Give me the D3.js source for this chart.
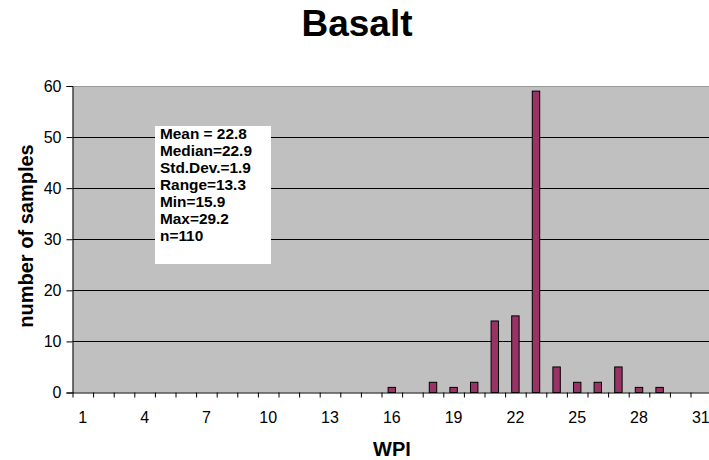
<!DOCTYPE html>
<html>
<head>
<meta charset="utf-8">
<script src="https://cdn.jsdelivr.net/npm/d3@7"></script>
<style>
  html, body { margin: 0; padding: 0; background: #fff; }
  svg { display: block; font-family: Arial, "Liberation Sans", sans-serif; }
</style>
</head>
<body>
<svg id="chart" width="709" height="460"></svg>
<script>
// WPI histogram bins and the number of basalt samples in each
const wpiBins = [1, 2, 3, 4, 5, 6, 7, 8, 9, 10, 11, 12, 13, 14, 15, 16,
                 17, 18, 19, 20, 21, 22, 23, 24, 25, 26, 27, 28, 29, 30, 31];
const sampleCounts = [0, 0, 0, 0, 0, 0, 0, 0, 0, 0, 0, 0, 0, 0, 0, 1,
                      0, 2, 1, 2, 14, 15, 59, 5, 2, 2, 5, 1, 1, 0, 0];
const xTickLabels = [1, 4, 7, 10, 13, 16, 19, 22, 25, 28, 31];
const yTickValues = [0, 10, 20, 30, 40, 50, 60];
const statLines = ["Mean = 22.8", "Median=22.9", "Std.Dev.=1.9", "Range=13.3",
                   "Min=15.9", "Max=29.2", "n=110"];

const svg = d3.select("#chart");
const plot = { left: 72.5, top: 86, bottom: 392.5, band: 20.6 };
plot.right = plot.left + plot.band * wpiBins.length;

const x = d3.scaleBand().domain(wpiBins).range([plot.left, plot.right]).padding(0);
const xEdges = d3.scaleLinear().domain([0.5, wpiBins.length + 0.5]).range([plot.left, plot.right]);
const y = d3.scaleLinear().domain([0, 60]).range([plot.bottom, plot.top]);

// plot background
svg.append("rect")
  .attr("x", plot.left).attr("y", plot.top)
  .attr("width", plot.right - plot.left).attr("height", plot.bottom - plot.top)
  .attr("fill", "#c0c0c0");

// top edge of the plot area
svg.append("line")
  .attr("x1", plot.left).attr("x2", plot.right)
  .attr("y1", y(60) + 0.5).attr("y2", y(60) + 0.5)
  .attr("stroke", "#9a9a9a").attr("stroke-width", 1);

// horizontal gridlines
svg.append("g").selectAll("line")
  .data(yTickValues.filter(v => v > 0 && v < 60))
  .join("line")
  .attr("x1", plot.left).attr("x2", plot.right)
  .attr("y1", d => Math.round(y(d)) + 0.5).attr("y2", d => Math.round(y(d)) + 0.5)
  .attr("stroke", "#000").attr("stroke-width", 1);

// bars
const barW = x.bandwidth() * 0.36;
svg.append("g").selectAll("rect")
  .data(wpiBins.map((b, i) => ({ bin: b, count: sampleCounts[i] })).filter(d => d.count > 0))
  .join("rect")
  .attr("x", d => x(d.bin) + x.bandwidth() / 2 - barW / 2)
  .attr("y", d => y(d.count))
  .attr("width", barW)
  .attr("height", d => y(0) - y(d.count))
  .attr("fill", "#993366")
  .attr("stroke", "#000")
  .attr("stroke-width", 1);

// y axis
const yAxis = svg.append("g")
  .attr("transform", `translate(${plot.left},0)`)
  .call(d3.axisLeft(y).tickValues(yTickValues).tickSize(6).tickPadding(5));
yAxis.select(".domain").attr("stroke", "#000");
yAxis.selectAll(".tick line").attr("stroke", "#000");
yAxis.selectAll(".tick text")
  .attr("font-size", 16).attr("font-family", "Arial, 'Liberation Sans', sans-serif")
  .attr("fill", "#000");

// x axis: tick marks on the bin edges
const xTicks = svg.append("g")
  .attr("transform", `translate(0,${plot.bottom})`)
  .call(d3.axisBottom(xEdges)
    .tickValues(wpiBins.map(b => b - 0.5))
    .tickSize(5).tickSizeOuter(0).tickFormat(""));
xTicks.select(".domain").attr("stroke", "#000");
xTicks.selectAll(".tick line").attr("stroke", "#000");

// x axis: labels centred on the bins
const xLabels = svg.append("g")
  .attr("transform", `translate(0,${plot.bottom})`)
  .call(d3.axisBottom(x).tickValues(xTickLabels).tickSize(0).tickPadding(19));
xLabels.select(".domain").remove();
xLabels.selectAll(".tick text")
  .attr("font-size", 16).attr("font-family", "Arial, 'Liberation Sans', sans-serif")
  .attr("fill", "#000");

// statistics box
svg.append("rect")
  .attr("x", 155).attr("y", 126)
  .attr("width", 116).attr("height", 138)
  .attr("fill", "#fff");
svg.append("g")
  .attr("transform", "translate(160,0) scale(1.1,1)")
  .selectAll("text")
  .data(statLines)
  .join("text")
  .attr("x", 0)
  .attr("y", (d, i) => 139.5 + i * 17)
  .attr("font-size", 14).attr("font-weight", "bold")
  .attr("fill", "#000")
  .text(d => d);

// titles
svg.append("text")
  .attr("x", 357).attr("y", 36)
  .attr("text-anchor", "middle")
  .attr("font-size", 37).attr("font-weight", "bold")
  .text("Basalt");

svg.append("text")
  .attr("x", 392).attr("y", 456)
  .attr("text-anchor", "middle")
  .attr("font-size", 20).attr("font-weight", "bold")
  .text("WPI");

svg.append("text")
  .attr("transform", "translate(33,236) rotate(-90)")
  .attr("text-anchor", "middle")
  .attr("font-size", 20).attr("font-weight", "bold")
  .text("number of samples");
</script>
</body>
</html>
